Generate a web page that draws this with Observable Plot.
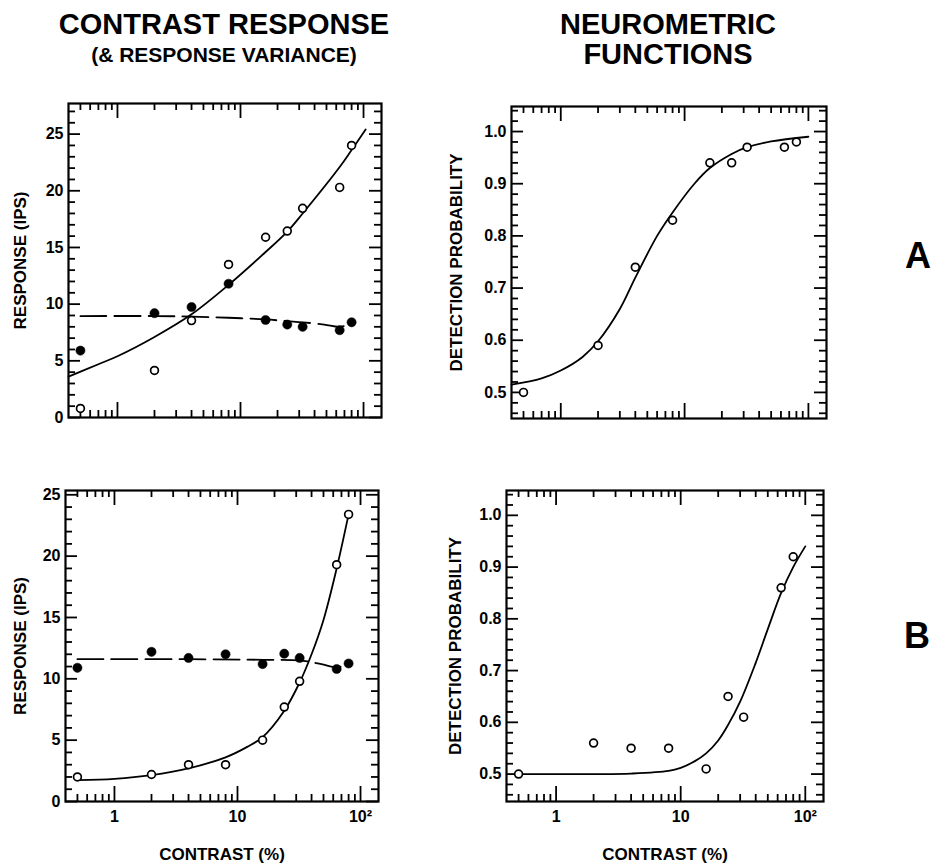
<!DOCTYPE html>
<html><head><meta charset="utf-8">
<script src="https://cdn.jsdelivr.net/npm/d3@7"></script>
<script src="https://cdn.jsdelivr.net/npm/@observablehq/plot@0.6"></script>
<style>
html,body{margin:0;padding:0;background:#fff;}
#fig{position:relative;width:932px;height:863px;font-family:"Liberation Sans",Arial,Helvetica,sans-serif;color:#000;overflow:hidden;}
.t{position:absolute;text-align:center;font-weight:bold;white-space:nowrap;line-height:1;}
</style></head><body><div id="fig">
<div class="t" style="left:24px;width:400px;top:10px;font-size:29px;">CONTRAST RESPONSE</div>
<div class="t" style="left:24px;width:400px;top:44px;font-size:21px;">(&amp; RESPONSE VARIANCE)</div>
<div class="t" style="left:468px;width:400px;top:10px;font-size:29px;">NEUROMETRIC</div>
<div class="t" style="left:468px;width:400px;top:40px;font-size:29px;">FUNCTIONS</div>
<div class="t" style="left:898px;width:40px;top:238px;font-size:36px;font-weight:900;">A</div>
<div class="t" style="left:897px;width:40px;top:618px;font-size:36px;font-weight:900;">B</div>
</div>
<script>
// ---- data ----
const contrast = [0.5, 2, 4, 8, 16, 24, 32, 64, 80];

// Row A
const meanRespA = [0.8, 4.15, 8.55, 13.5, 15.9, 16.45, 18.45, 20.3, 24.0];
const varRespA  = [5.9, 9.2, 9.75, 11.8, 8.6, 8.2, 8.0, 7.7, 8.4];
const fitMeanXA = [0.4, 0.7, 1, 2, 4, 8, 16, 24, 32, 64, 80, 104];
const fitMeanYA = [3.6, 4.7, 5.4, 7.1, 9.1, 11.7, 14.6, 16.4, 18.0, 22.1, 23.6, 25.4];
const fitVarXA  = [0.5, 2, 4, 8, 16, 24, 32, 48, 64, 80];
const fitVarYA  = [8.95, 8.95, 8.9, 8.8, 8.65, 8.5, 8.4, 8.2, 8.0, 8.3];
const probA     = [0.50, 0.59, 0.74, 0.83, 0.94, 0.94, 0.97, 0.97, 0.98];
const fitProbXA = [0.4, 0.7, 1, 1.5, 2, 3, 4, 6, 8, 12, 16, 24, 32, 50, 100];
const fitProbYA = [0.515, 0.527, 0.542, 0.568, 0.598, 0.66, 0.72, 0.80, 0.845, 0.90, 0.93, 0.957, 0.97, 0.981, 0.99];

// Row B
const meanRespB = [2.0, 2.2, 3.0, 3.0, 5.0, 7.7, 9.8, 19.3, 23.4];
const varRespB  = [10.9, 12.2, 11.7, 12.0, 11.2, 12.05, 11.7, 10.8, 11.25];
const fitMeanXB = [0.5, 1, 2, 4, 8, 12, 16, 24, 32, 40, 50, 64, 80];
const fitMeanYB = [1.75, 1.85, 2.15, 2.7, 3.6, 4.45, 5.25, 7.4, 9.7, 12.0, 14.8, 19.0, 23.4];
const fitVarXB  = [0.5, 4, 16, 32, 48, 64, 80];
const fitVarYB  = [11.6, 11.6, 11.55, 11.5, 11.2, 10.95, 11.2];
const probB     = [0.50, 0.56, 0.55, 0.55, 0.51, 0.65, 0.61, 0.86, 0.92];
const fitProbXB = [0.5, 1, 2, 4, 8, 10, 13, 16, 20, 24, 30, 40, 50, 64, 80, 100];
const fitProbYB = [0.50, 0.50, 0.50, 0.501, 0.506, 0.512, 0.525, 0.54, 0.565, 0.595, 0.64, 0.715, 0.78, 0.85, 0.90, 0.94];

// axes / ticks
const xDomain = [0.4, 140];
const xMajorTicks = [1, 10, 100];
const xMinorTicks = [0.5, 0.6, 0.7, 0.8, 0.9, 2, 3, 4, 5, 6, 7, 8, 9, 20, 30, 40, 50, 60, 70, 80, 90];
const xTickLabels = ["1", "10", "10\u00B2"];
const respMajor = [0, 5, 10, 15, 20, 25];
const respLabels = ["0", "5", "10", "15", "20", "25"];
const probMajor = [0.5, 0.6, 0.7, 0.8, 0.9, 1.0];
const probLabels = ["0.5", "0.6", "0.7", "0.8", "0.9", "1.0"];
const respMinor = d3.range(0, 28, 1).filter(v => v % 5 !== 0);
const probMinor = d3.range(46, 105, 2).map(v => v / 100).filter(v => Math.round(v * 100) % 10 !== 0);

const FONT = '"Liberation Sans", Arial, Helvetica, sans-serif';
const fig = document.getElementById("fig");

function panel(o) {
  const [x0, y0, x1, y1] = o.frame;
  const fw = x1 - x0, fh = y1 - y0;
  const ml = 70, mr = 12, mt = 12, mb = 66;
  const tk = {stroke: "black", strokeWidth: 1.8};
  const marks = [
    Plot.ruleY(o.yMinor, {...tk, insetRight: fw - 7}),
    Plot.ruleY(o.yMinor, {...tk, insetLeft: fw - 7}),
    Plot.ruleY(o.yMajor, {...tk, insetRight: fw - 12}),
    Plot.ruleY(o.yMajor, {...tk, insetLeft: fw - 12}),
    Plot.ruleX(xMinorTicks, {...tk, insetTop: fh - 7}),
    Plot.ruleX(xMinorTicks, {...tk, insetBottom: fh - 7}),
    Plot.ruleX(xMajorTicks, {...tk, insetTop: fh - 15}),
    Plot.ruleX(xMajorTicks, {...tk, insetBottom: fh - 15}),
    Plot.frame({stroke: "black", strokeWidth: 2.2}),
    Plot.text(o.yMajor, {y: d => d, text: (d, i) => o.yLabels[i], frameAnchor: "left", textAnchor: "end", lineAnchor: "middle", dx: -5, fontSize: 16, fontWeight: "bold", fill: "black"}),
    Plot.text([o.ylabel], {frameAnchor: "left", rotate: -90, textAnchor: "middle", lineAnchor: "middle", dx: o.ylabelDx, fontSize: 17, fontWeight: "bold", fill: "black"}),
    ...o.marks
  ];
  if (o.xAxis) {
    marks.push(
      Plot.text(xMajorTicks, {x: d => d, text: (d, i) => xTickLabels[i], frameAnchor: "bottom", textAnchor: "middle", lineAnchor: "top", dy: 9, fontSize: 16, fontWeight: "bold", fill: "black"}),
      Plot.text(["CONTRAST (%)"], {frameAnchor: "bottom", textAnchor: "middle", lineAnchor: "bottom", dy: 58, fontSize: 17, fontWeight: "bold", fill: "black"})
    );
  }
  const svg = Plot.plot({
    width: fw + ml + mr, height: fh + mt + mb,
    marginLeft: ml, marginRight: mr, marginTop: mt, marginBottom: mb,
    x: {type: "log", domain: xDomain, axis: null},
    y: {domain: o.yDomain, axis: null},
    marks
  });
  svg.style.position = "absolute";
  svg.style.left = (x0 - ml) + "px";
  svg.style.top = (y0 - mt) + "px";
  svg.style.background = "transparent";
  svg.style.overflow = "visible";
  svg.style.fontFamily = FONT;
  svg.style.maxWidth = "none";
  fig.appendChild(svg);
}

const solid = {stroke: "black", strokeWidth: 1.8, curve: "catmull-rom"};
const dashed = {stroke: "black", strokeWidth: 1.8, curve: "catmull-rom", strokeDasharray: "26,8"};
const openDot = {r: 3.9, fill: "white", stroke: "black", strokeWidth: 1.7};
const fillDot = {r: 4.6, fill: "black", stroke: "black", strokeWidth: 0.5};

// A: contrast response
panel({
  frame: [68, 103, 381, 417], yDomain: [0, 27.7],
  yMajor: respMajor, yLabels: respLabels, yMinor: respMinor,
  ylabel: "RESPONSE (IPS)", ylabelDx: -48, xAxis: false,
  marks: [
    Plot.line(fitMeanXA, {x: fitMeanXA, y: fitMeanYA, ...solid}),
    Plot.line(fitVarXA, {x: fitVarXA, y: fitVarYA, ...dashed}),
    Plot.dot(contrast, {x: contrast, y: meanRespA, ...openDot}),
    Plot.dot(contrast, {x: contrast, y: varRespA, ...fillDot})
  ]
});
// A: neurometric
panel({
  frame: [511, 106, 826, 418], yDomain: [0.45, 1.048],
  yMajor: probMajor, yLabels: probLabels, yMinor: probMinor,
  ylabel: "DETECTION PROBABILITY", ylabelDx: -55, xAxis: false,
  marks: [
    Plot.line(fitProbXA, {x: fitProbXA, y: fitProbYA, ...solid}),
    Plot.dot(contrast, {x: contrast, y: probA, ...openDot})
  ]
});
// B: contrast response
panel({
  frame: [65, 490, 378, 801], yDomain: [0, 25.35],
  yMajor: respMajor, yLabels: respLabels, yMinor: respMinor.filter(v => v < 26),
  ylabel: "RESPONSE (IPS)", ylabelDx: -45, xAxis: true,
  marks: [
    Plot.line(fitMeanXB, {x: fitMeanXB, y: fitMeanYB, ...solid}),
    Plot.line(fitVarXB, {x: fitVarXB, y: fitVarYB, ...dashed}),
    Plot.dot(contrast, {x: contrast, y: meanRespB, ...openDot}),
    Plot.dot(contrast, {x: contrast, y: varRespB, ...fillDot})
  ]
});
// B: neurometric
panel({
  frame: [506, 490, 823, 801], yDomain: [0.447, 1.048],
  yMajor: probMajor, yLabels: probLabels, yMinor: probMinor,
  ylabel: "DETECTION PROBABILITY", ylabelDx: -51, xAxis: true,
  marks: [
    Plot.line(fitProbXB, {x: fitProbXB, y: fitProbYB, ...solid}),
    Plot.dot(contrast, {x: contrast, y: probB, ...openDot})
  ]
});
</script></body></html>
